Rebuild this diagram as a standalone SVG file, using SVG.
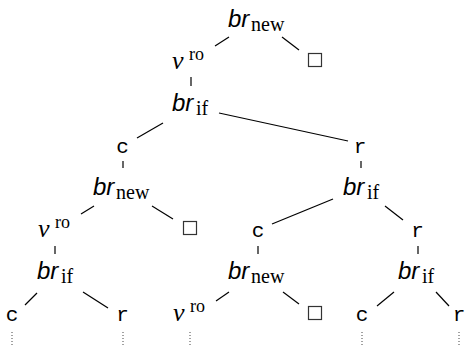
<svg xmlns="http://www.w3.org/2000/svg" width="467" height="345" viewBox="0 0 467 345">
<style>
.br{font-family:'Liberation Sans','DejaVu Sans',sans-serif;font-style:italic;font-size:24px;fill:#000}
.sub{font-family:'Liberation Serif','DejaVu Serif',serif;font-size:20px;fill:#000}
.nu{font-family:'Liberation Serif','DejaVu Serif',serif;font-style:italic;font-size:26px;fill:#000}
.sup{font-family:'Liberation Serif','DejaVu Serif',serif;font-size:18px;fill:#000}
.tt{font-family:'Liberation Mono','DejaVu Sans Mono',monospace;font-size:21px;fill:#000;text-anchor:middle}
.box{fill:#fff;stroke:#333;stroke-width:1.2}
.e line{stroke:#000;stroke-width:1.2}
.d line{stroke:#444;stroke-width:1;stroke-dasharray:1 2}
</style>
<rect width="467" height="345" fill="#fff"/>
<g class="e" id="connectors">
<line x1="229" y1="37" x2="215" y2="46"/>
<line x1="282" y1="37" x2="299" y2="50"/>
<line x1="191" y1="77" x2="191" y2="86"/>
<line x1="163" y1="123" x2="137" y2="138"/>
<line x1="219" y1="113" x2="348" y2="141"/>
<line x1="123" y1="161" x2="123" y2="168"/>
<line x1="361" y1="161" x2="361" y2="168"/>
<line x1="94" y1="206" x2="81" y2="214"/>
<line x1="152" y1="206" x2="173" y2="219"/>
<line x1="333" y1="199" x2="272" y2="224"/>
<line x1="385" y1="206" x2="403" y2="220"/>
<line x1="55" y1="246" x2="55" y2="254"/>
<line x1="258" y1="246" x2="258" y2="254"/>
<line x1="418" y1="246" x2="418" y2="254"/>
<line x1="37" y1="293" x2="25" y2="305"/>
<line x1="83" y1="292" x2="108" y2="308"/>
<line x1="229" y1="292" x2="216" y2="301"/>
<line x1="283" y1="292" x2="299" y2="304"/>
<line x1="394" y1="292" x2="377" y2="306"/>
<line x1="436" y1="292" x2="449" y2="306"/>
</g>
<g class="d" id="continuations">
<line x1="12" y1="332" x2="12" y2="345"/>
<line x1="123" y1="332" x2="123" y2="345"/>
<line x1="190" y1="332" x2="190" y2="345"/>
<line x1="362" y1="332" x2="362" y2="345"/>
<line x1="459" y1="332" x2="459" y2="345"/>
</g>
<g id="n0"><text class="br" x="228" y="27">br</text><text class="sub" x="251" y="31">new</text></g>
<g id="n1"><text class="nu" x="172" y="69">ν</text><text class="sup" x="189" y="60">ro</text></g>
<g id="n2"><rect class="box" x="308.5" y="53.5" width="13" height="13"/></g>
<g id="n3"><text class="br" x="172" y="111">br</text><text class="sub" x="196" y="115">if</text></g>
<g id="n4"><text class="tt" x="122.5" y="153">c</text></g>
<g id="n5"><text class="tt" x="360" y="153">r</text></g>
<g id="n6"><text class="br" x="93" y="195">br</text><text class="sub" x="116" y="199">new</text></g>
<g id="n7"><text class="br" x="343" y="195">br</text><text class="sub" x="367" y="199">if</text></g>
<g id="n8"><text class="nu" x="38" y="237">ν</text><text class="sup" x="55" y="228">ro</text></g>
<g id="n9"><rect class="box" x="183.5" y="221.5" width="13" height="13"/></g>
<g id="n10"><text class="tt" x="258" y="237">c</text></g>
<g id="n11"><text class="tt" x="417.5" y="237">r</text></g>
<g id="n12"><text class="br" x="37" y="279">br</text><text class="sub" x="61" y="283">if</text></g>
<g id="n13"><text class="br" x="228" y="279">br</text><text class="sub" x="251" y="283">new</text></g>
<g id="n14"><text class="br" x="398" y="279">br</text><text class="sub" x="422" y="283">if</text></g>
<g id="n15"><text class="tt" x="12" y="321">c</text></g>
<g id="n16"><text class="tt" x="122.5" y="321">r</text></g>
<g id="n17"><text class="nu" x="173" y="321">ν</text><text class="sup" x="190" y="312">ro</text></g>
<g id="n18"><rect class="box" x="308.5" y="306.5" width="13" height="13"/></g>
<g id="n19"><text class="tt" x="362" y="321">c</text></g>
<g id="n20"><text class="tt" x="459" y="321">r</text></g>
</svg>
